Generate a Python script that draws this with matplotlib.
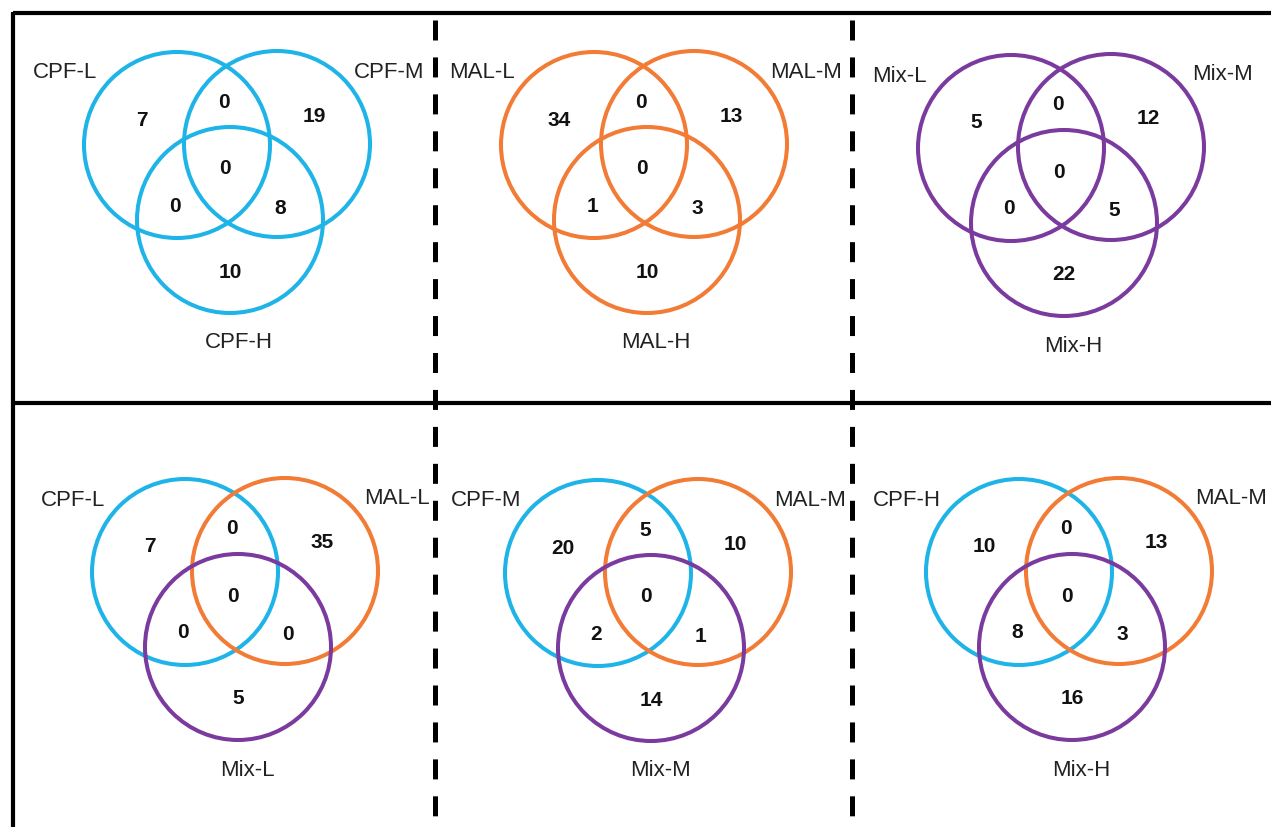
import matplotlib
matplotlib.use("Agg")
import matplotlib.pyplot as plt
from matplotlib.patches import Circle

plt.rcParams['font.family'] = ['Liberation Sans', 'DejaVu Sans']
plt.rcParams['lines.scale_dashes'] = False

# set names (left, right, bottom) for each panel, row by row
set_names = [
    ["CPF-L", "CPF-M", "CPF-H"],
    ["MAL-L", "MAL-M", "MAL-H"],
    ["Mix-L", "Mix-M", "Mix-H"],
    ["CPF-L", "MAL-L", "Mix-L"],
    ["CPF-M", "MAL-M", "Mix-M"],
    ["CPF-H", "MAL-M", "Mix-H"],
]

# region counts: A only, A&B, B only, A&B&C, A&C, B&C, C only
region_counts = [
    [7, 0, 19, 0, 0, 8, 10],
    [34, 0, 13, 0, 1, 3, 10],
    [5, 0, 12, 0, 0, 5, 22],
    [7, 0, 35, 0, 0, 0, 5],
    [20, 5, 10, 0, 2, 1, 14],
    [10, 0, 13, 0, 8, 3, 16],
]

BLUE = "#1fb4e8"
ORANGE = "#f27b35"
PURPLE = "#7a3a9e"
circle_colors = [
    [BLUE, BLUE, BLUE],
    [ORANGE, ORANGE, ORANGE],
    [PURPLE, PURPLE, PURPLE],
    [BLUE, ORANGE, PURPLE],
    [BLUE, ORANGE, PURPLE],
    [BLUE, ORANGE, PURPLE],
]

# layout in pixel units
W, H = 1271, 827
panel_origin = [(227, 145), (644, 145), (1061, 148),
                (235, 572), (648, 573), (1069, 572)]
circle_offsets = [(-50, 0), (50, -1), (3, 75)]
radius = 93
label_offsets = [(-162, -72), (162, -73), (12, 198)]
count_offsets = [(-85, -25), (-3, -43), (87, -29), (-2, 24),
                 (-52, 61), (53, 63), (3, 127)]
frame_x0, frame_y0, row_split = 13, 13, 403
col_splits = [435, 852]

fig = plt.figure(figsize=(W / 100, H / 100), dpi=100)
ax = fig.add_axes([0, 0, 1, 1])
ax.set_xlim(0, W)
ax.set_ylim(H, 0)
ax.axis("off")

# outer frame and row separator
ax.plot([frame_x0, W], [frame_y0, frame_y0], color="black", lw=3.0, solid_capstyle="butt")
ax.plot([frame_x0, frame_x0], [frame_y0 - 1.5, H], color="black", lw=3.0, solid_capstyle="butt")
ax.plot([frame_x0, W], [row_split, row_split], color="black", lw=3.0, solid_capstyle="butt")
for xs in col_splits:
    ax.plot([xs, xs], [frame_y0 + 7, H], color="black", lw=3.6,
            linestyle=(0, (14.4, 12.2)), dash_capstyle="butt")

for names, counts, colors, (ox, oy) in zip(set_names, region_counts,
                                          circle_colors, panel_origin):
    for (dx, dy), c in zip(circle_offsets, colors):
        ax.add_patch(Circle((ox + dx, oy + dy), radius, fill=False,
                            edgecolor=c, lw=2.9))
    for (dx, dy), name in zip(label_offsets, names):
        ax.text(ox + dx, oy + dy, name, ha="center", va="center",
                fontsize=16, color="#222222")
    for (dx, dy), n in zip(count_offsets, counts):
        ax.text(ox + dx, oy + dy, str(n), ha="center", va="center",
                fontsize=15, fontweight="bold", color="#111111")

fig.savefig("out.png", dpi=100)
